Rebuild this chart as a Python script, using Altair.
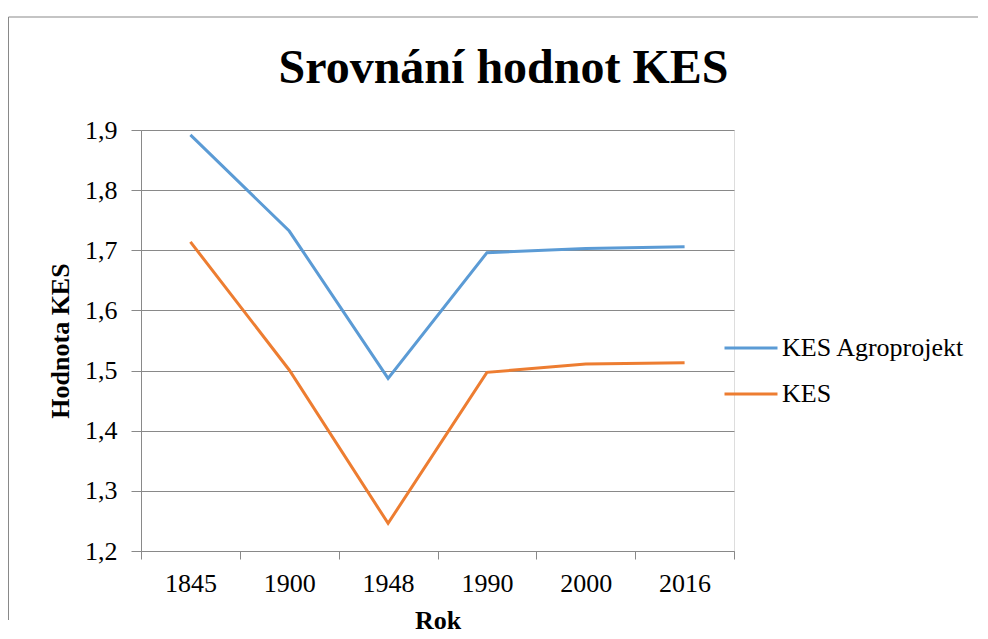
import altair as alt
import pandas as pd

# ---- data ----
years = ["1845", "1900", "1948", "1990", "2000", "2016"]
kes_agroprojekt = [1.892, 1.732, 1.487, 1.696, 1.703, 1.706]
kes = [1.714, 1.501, 1.246, 1.497, 1.511, 1.513]
series_names = ["KES Agroprojekt", "KES"]
series_colors = ["#5B9BD5", "#ED7D31"]
y_ticks = [1.2, 1.3, 1.4, 1.5, 1.6, 1.7, 1.8, 1.9]

rows = []
for name, vals in zip(series_names, [kes_agroprojekt, kes]):
    for yr, v in zip(years, vals):
        rows.append({"Rok": yr, "Hodnota": v, "Řada": name})
df = pd.DataFrame(rows)

W, H = 593, 421
FONT = "'Liberation Serif', 'Times New Roman', Times, 'DejaVu Serif', serif"
GRAY = "#898989"

lines = alt.Chart(df).mark_line(strokeWidth=3).encode(
    x=alt.X(
        "Rok:N",
        sort=years,
        scale=alt.Scale(type="band", paddingInner=0, paddingOuter=0),
        axis=alt.Axis(
            title="Rok",
            labelAngle=0,
            tickBand="extent",
            tickSize=8,
            tickColor=GRAY,
            domainColor=GRAY,
            labelPadding=11,
            labelFont=FONT,
            labelFontSize=26,
            labelColor="black",
            titleFont=FONT,
            titleFontSize=26,
            titleFontWeight="bold",
            titleColor="black",
            titleY=77,
            titleBaseline="alphabetic",
            grid=False,
        ),
    ),
    y=alt.Y(
        "Hodnota:Q",
        scale=alt.Scale(domain=[1.2, 1.9], zero=False, nice=False),
        axis=alt.Axis(
            values=y_ticks,
            labelExpr="replace(format(datum.value, '.1f'), '.', ',')",
            title="Hodnota KES",
            titleFont=FONT,
            titleFontSize=26,
            titleFontWeight="bold",
            titleColor="black",
            titleX=-73,
            titleBaseline="alphabetic",
            labelFont=FONT,
            labelFontSize=26,
            labelColor="black",
            labelPadding=14,
            tickSize=10,
            tickColor=GRAY,
            domainColor=GRAY,
            grid=True,
            gridColor=GRAY,
        ),
    ),
    color=alt.Color(
        "Řada:N",
        scale=alt.Scale(domain=series_names, range=series_colors),
        legend=alt.Legend(
            title=None,
            orient="none",
            legendX=595,
            legendY=203,
            symbolType="M-2,0H2",
            symbolSize=702,
            symbolStrokeWidth=3,
            labelFont=FONT,
            labelFontSize=26,
            labelColor="black",
            labelOffset=16,
            labelLimit=400,
            rowPadding=18,
            padding=0,
        ),
    ),
)

one = pd.DataFrame({"a": [0]})
frame_left = alt.Chart(one).mark_rule(color=GRAY, strokeWidth=1).encode(
    x=alt.value(-132.5), y=alt.value(-113), y2=alt.value(490)
)
frame_top = alt.Chart(one).mark_rule(color=GRAY, strokeWidth=1).encode(
    x=alt.value(-132.5), x2=alt.value(837), y=alt.value(-113)
)

chart = (
    alt.layer(frame_left, frame_top, lines)
    .properties(
        width=W,
        height=H,
        padding={"left": 0, "top": 8, "right": 0, "bottom": 0},
        title=alt.TitleParams(
            "Srovnání hodnot KES",
            font=FONT,
            fontSize=48,
            fontWeight="bold",
            color="black",
            anchor="middle",
            frame="group",
            dx=66,
            offset=-114,
            baseline="alphabetic",
        ),
    )
    .configure_view(stroke=None)
    .configure(background="white")
)

chart.save("out.html", embed_options={"renderer": "svg", "actions": False})
